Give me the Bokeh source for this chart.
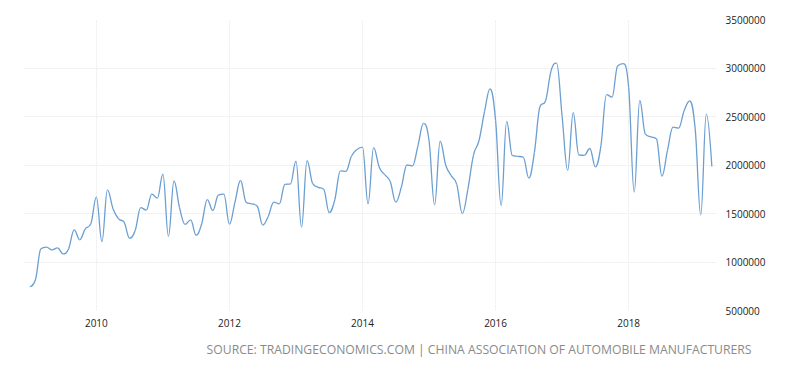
import numpy as np
from bokeh.plotting import figure
from bokeh.models import Range1d, FixedTicker, LinearAxis, Title, NumeralTickFormatter
from bokeh.embed import file_html
from bokeh.resources import INLINE

# Monthly China car sales (units), Jan 2009 - Apr 2019
start_year = 2009
sales = [
    # 2009
    747000, 815000, 1136000, 1153000, 1125000, 1146000, 1084000, 1136000, 1332000, 1229000, 1342000, 1394000,
    # 2010
    1668000, 1211000, 1744000, 1550000, 1445000, 1410000, 1245000, 1325000, 1560000, 1535000, 1700000, 1658000,
    # 2011
    1905000, 1265000, 1835000, 1560000, 1387000, 1435000, 1276000, 1394000, 1644000, 1531000, 1690000, 1700000,
    # 2012
    1390000, 1617000, 1840000, 1617000, 1600000, 1578000, 1380000, 1470000, 1617000, 1600000, 1800000, 1805000,
    # 2013
    2040000, 1359000, 2045000, 1810000, 1770000, 1750000, 1510000, 1640000, 1940000, 1935000, 2090000, 2160000,
    # 2014
    2185000, 1600000, 2180000, 1980000, 1900000, 1830000, 1617000, 1770000, 2000000, 1990000, 2200000, 2430000,
    # 2015
    2250000, 1590000, 2245000, 2000000, 1890000, 1800000, 1500000, 1750000, 2100000, 2250000, 2550000, 2785000,
    # 2016
    2460000, 1582000, 2450000, 2100000, 2090000, 2080000, 1865000, 2130000, 2600000, 2660000, 2970000, 3050000,
    # 2017
    2500000, 1945000, 2540000, 2105000, 2100000, 2170000, 1980000, 2200000, 2725000, 2700000, 3020000, 3045000,
    # 2018
    2800000, 1720000, 2665000, 2320000, 2290000, 2270000, 1885000, 2150000, 2390000, 2380000, 2560000, 2660000,
    # 2019
    2370000, 1485000, 2525000, 1985000,
]
y_ticks = [500000, 1000000, 1500000, 2000000, 2500000, 3000000, 3500000]
x_ticks = [2010, 2012, 2014, 2016, 2018]
source_text = "SOURCE: TRADINGECONOMICS.COM | CHINA ASSOCIATION OF AUTOMOBILE MANUFACTURERS"

xs = np.array([start_year + i / 12.0 for i in range(len(sales))])
ys = np.array(sales, dtype=float)

# Highcharts-style spline control points (smoothing 1.5)
def spline_controls(x, y, smoothing=1.5):
    n = len(x)
    denom = smoothing + 1
    lcx = x.copy(); lcy = y.copy(); rcx = x.copy(); rcy = y.copy()
    for i in range(1, n - 1):
        px, py = x[i], y[i]
        lx, ly = x[i - 1], y[i - 1]
        nx, ny = x[i + 1], y[i + 1]
        lX = (smoothing * px + lx) / denom
        lY = (smoothing * py + ly) / denom
        rX = (smoothing * px + nx) / denom
        rY = (smoothing * py + ny) / denom
        if rX != lX:
            corr = ((rY - lY) * (rX - px)) / (rX - lX) + py - rY
            lY += corr
            rY += corr
        if lY > ly and lY > py:
            lY = max(ly, py); rY = 2 * py - lY
        elif lY < ly and lY < py:
            lY = min(ly, py); rY = 2 * py - lY
        if rY > ny and rY > py:
            rY = max(ny, py); lY = 2 * py - rY
        elif rY < ny and rY < py:
            rY = min(ny, py); lY = 2 * py - rY
        lcx[i], lcy[i], rcx[i], rcy[i] = lX, lY, rX, rY
    return lcx, lcy, rcx, rcy

lcx, lcy, rcx, rcy = spline_controls(xs, ys)

p = figure(width=800, height=372, output_backend="svg", toolbar_location=None,
           x_range=Range1d(2008.92, 2019.32), y_range=Range1d(500000, 3500000),
           y_axis_location=None, min_border_left=24, min_border_right=84,
           min_border_top=19, min_border_bottom=62)
p.outline_line_color = None
p.background_fill_color = "white"
p.border_fill_color = "white"

p.bezier(x0=xs[:-1], y0=ys[:-1], x1=xs[1:], y1=ys[1:],
         cx0=rcx[:-1], cy0=rcy[:-1], cx1=lcx[1:], cy1=lcy[1:],
         line_color="#6b9fd2", line_width=1.3)

yaxis = LinearAxis(ticker=FixedTicker(ticks=y_ticks), formatter=NumeralTickFormatter(format="0"))
p.add_layout(yaxis, "right")
yaxis.axis_line_color = None
yaxis.major_tick_line_color = None
yaxis.minor_tick_line_color = None
yaxis.major_label_standoff = 3
yaxis.major_label_text_font = "Open Sans"
yaxis.major_label_text_font_size = "10px"
yaxis.major_label_text_color = "#222222"

p.xaxis.ticker = FixedTicker(ticks=x_ticks)
p.xaxis.axis_line_color = None
p.xaxis.major_tick_line_color = None
p.xaxis.minor_tick_line_color = None
p.xaxis.major_label_standoff = 2
p.xaxis.major_label_text_font = "Open Sans"
p.xaxis.major_label_text_font_size = "10px"
p.xaxis.major_label_text_color = "#222222"

p.xgrid.ticker = FixedTicker(ticks=x_ticks)
p.xgrid.grid_line_color = "#ececec"
p.ygrid.ticker = FixedTicker(ticks=y_ticks)
p.ygrid.grid_line_color = "#ececec"
p.ygrid.grid_line_dash = "2 1"
p.xgrid.grid_line_dash = "2 1"

t = Title(text=source_text, align="right", offset=-35, standoff=19,
          text_font="Open Sans", text_font_size="12.2px", text_font_style="normal",
          text_color="#8a8a8a")
p.add_layout(t, "below")

open("out.html", "w").write(file_html(p, INLINE))
